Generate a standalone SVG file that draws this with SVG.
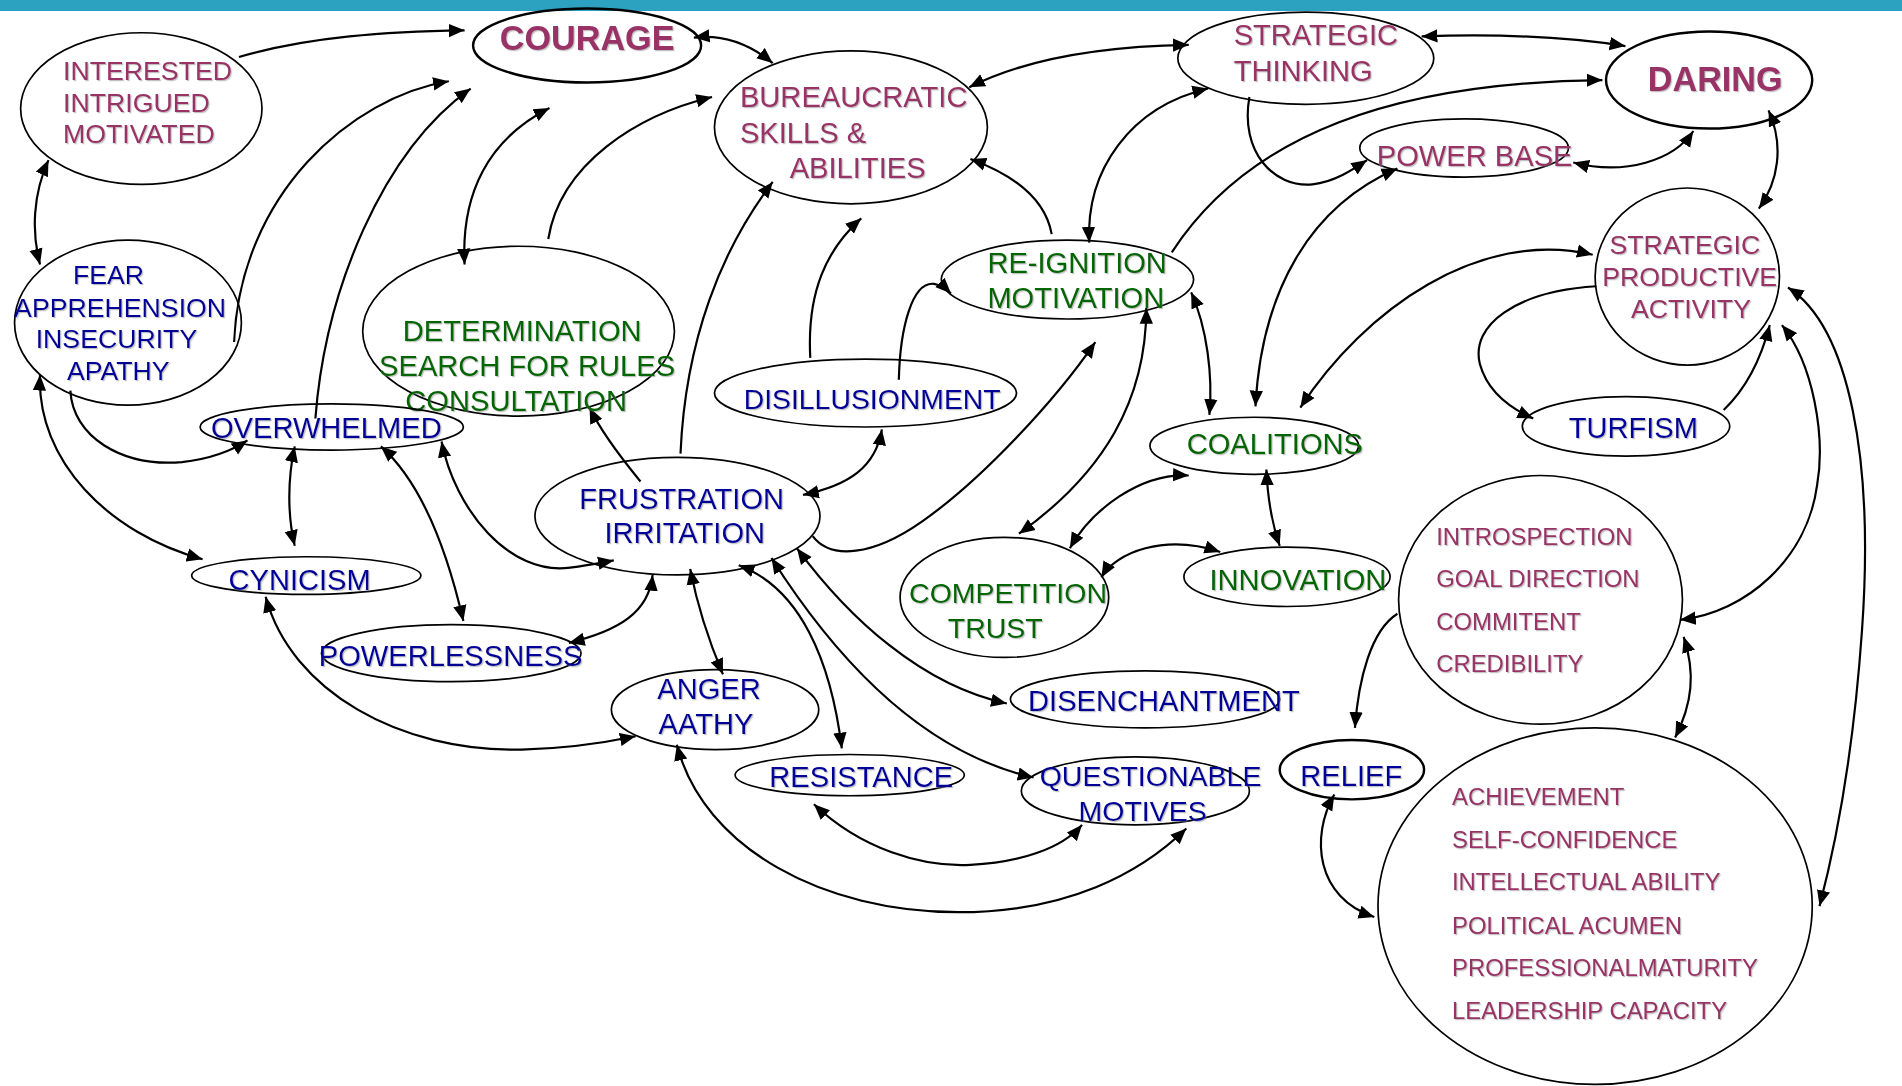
<svg xmlns="http://www.w3.org/2000/svg" width="1902" height="1086" viewBox="0 0 1902 1086">
<style>
.n{fill:none;stroke:#000;stroke-width:1.4}
.nb{fill:none;stroke:#000;stroke-width:2}
.t{font-family:"Liberation Sans",Arial,sans-serif;font-size:24px;filter:url(#sh)}
.p{fill:#993366}.b{fill:#000099}.g{fill:#006600}
.s22{font-size:22px}.s20{font-size:19.7px}.bold{font-weight:bold;font-size:28.2px}
.m{text-anchor:middle}
.c path{fill:none;stroke:#000;stroke-width:1.8}
.e{marker-end:url(#ah)}
.d{marker-start:url(#ah);marker-end:url(#ah)}
</style>
<defs>
<marker id="ah" markerUnits="userSpaceOnUse" markerWidth="14" markerHeight="12" refX="13" refY="5.5" orient="auto-start-reverse" viewBox="0 0 14 11">
<path d="M0,0 L13,5.5 L0,11 z" fill="#000"/>
</marker>
<filter id="sh" x="-5%" y="-20%" width="110%" height="140%">
<feDropShadow dx="1" dy="1" stdDeviation="0.5" flood-color="#777" flood-opacity="0.45"/>
</filter>
</defs>
<rect x="0" y="0" width="1902" height="11" fill="#2da2c0"/>
<g transform="scale(1.21301)">
<g id="connectors" class="c">
<path class="e" d="M197,47 C255,30 320,26 383,25"/>
<path class="d" d="M40,132 C27,160 26,192 33,218"/>
<path class="e" d="M193,282 C198,160 290,80 370,67"/>
<path class="e" d="M260,345 C268,240 315,125 388,73"/>
<path class="d" d="M383,218 C380,160 402,115 453,89"/>
<path class="e" d="M452,197 C462,135 525,95 587,80"/>
<path class="d" d="M572,31 C598,28 620,38 637,52"/>
<path class="d" d="M799,72 C850,46 920,38 980,37"/>
<path class="e" d="M867,193 C862,165 838,145 800,131"/>
<path class="e" d="M561,374 C565,280 595,205 637,150"/>
<path class="e" d="M668,295 C665,240 682,205 710,180"/>
<path class="d" d="M898,200 C895,140 932,88 996,73"/>
<path class="d" d="M1172,30 C1230,28 1290,30 1340,38"/>
<path class="e" d="M966,208 C1030,110 1150,68 1321,66"/>
<path class="e" d="M1030,80 C1022,125 1050,155 1082,152 C1100,150 1115,140 1127,132"/>
<path class="d" d="M1297,134 C1340,145 1380,132 1396,108"/>
<path class="d" d="M1458,91 C1471,120 1466,150 1450,172"/>
<path class="d" d="M1035,335 C1040,240 1080,170 1152,139"/>
<path class="d" d="M1072,336 C1125,255 1220,188 1313,210"/>
<path class="e" d="M1316,236 C1250,240 1212,268 1220,300 C1226,322 1244,336 1264,345"/>
<path class="e" d="M1421,338 C1440,320 1452,295 1459,268"/>
<path class="d" d="M982,241 C995,270 1000,310 997,342"/>
<path class="d" d="M945,254 C945,330 910,390 840,440"/>
<path class="e" d="M670,442 C685,462 720,458 760,430 C810,395 870,330 903,282"/>
<path class="d" d="M882,452 C900,420 940,390 980,392"/>
<path class="d" d="M908,476 C920,455 960,440 1006,455"/>
<path class="d" d="M1044,387 C1045,410 1048,430 1055,450"/>
<path class="d" d="M662,408 C700,400 722,385 727,354"/>
<path class="e" d="M528,397 C510,375 495,355 486,336"/>
<path class="d" d="M364,364 C375,420 420,475 470,468 C485,466 495,464 506,462"/>
<path class="e" d="M58,322 C60,360 100,385 150,381 C175,378 192,371 204,363"/>
<path class="d" d="M33,309 C30,380 90,440 167,461"/>
<path class="d" d="M243,368 C237,395 237,425 243,450"/>
<path class="d" d="M314,368 C350,400 370,460 382,512"/>
<path class="d" d="M469,530 C510,520 535,505 538,474"/>
<path class="d" d="M219,492 C240,570 330,620 430,618 C470,617 500,612 524,607"/>
<path class="d" d="M569,469 C575,500 585,530 596,556"/>
<path class="d" d="M609,466 C660,485 685,545 694,617"/>
<path class="d" d="M636,460 C690,545 760,620 852,641"/>
<path class="d" d="M657,452 C700,510 760,565 830,580"/>
<path class="d" d="M558,614 C580,700 680,752 790,752 C880,752 940,720 978,683"/>
<path class="d" d="M671,663 C710,700 760,715 800,713 C840,711 875,700 892,680"/>
<path class="e" d="M1152,506 C1130,520 1120,560 1117,600"/>
<path class="d" d="M1100,655 C1080,690 1085,740 1133,756"/>
<path class="d" d="M1388,525 C1398,555 1395,580 1381,608"/>
<path class="d" d="M1469,268 C1495,300 1505,360 1498,400 C1490,460 1440,505 1385,511"/>
<path class="d" d="M1474,237 C1525,270 1545,380 1535,520 C1528,620 1515,690 1500,747"/>
<path class="e" d="M741,313 C742,270 752,232 770,234 C776,235 780,238 784,242"/>
</g>
<g id="n-interested"><ellipse class="n" cx="116.5" cy="89.5" rx="99.5" ry="62.5"/>
<text class="t p s22" x="52" y="66">INTERESTED</text><text class="t p s22" x="52" y="92">INTRIGUED</text><text class="t p s22" x="52" y="118">MOTIVATED</text></g>
<g id="n-courage"><ellipse class="nb" cx="484" cy="37.5" rx="94" ry="30.5"/>
<text class="t p bold m" x="484" y="41">COURAGE</text></g>
<g id="n-bureaucratic"><ellipse class="n" cx="701.5" cy="105" rx="112.5" ry="63"/>
<text class="t p" x="610" y="88">BUREAUCRATIC</text><text class="t p" x="610" y="118">SKILLS &amp;</text><text class="t p" x="651" y="147">ABILITIES</text></g>
<g id="n-strategic-thinking"><ellipse class="n" cx="1076.5" cy="48" rx="105.5" ry="38"/>
<text class="t p" x="1017" y="37">STRATEGIC</text><text class="t p" x="1017" y="67">THINKING</text></g>
<g id="n-daring"><ellipse class="nb" cx="1409" cy="66" rx="85" ry="40"/>
<text class="t p bold m" x="1414" y="75">DARING</text></g>
<g id="n-power-base"><ellipse class="n" cx="1207" cy="122" rx="86" ry="24"/>
<text class="t p" x="1135" y="137">POWER BASE</text></g>
<g id="n-fear"><ellipse class="n" cx="105.5" cy="266" rx="93.5" ry="68"/>
<text class="t b s22 m" x="89.5" y="234">FEAR</text><text class="t b s22 m" x="99" y="261">APPREHENSION</text><text class="t b s22 m" x="96" y="287">INSECURITY</text><text class="t b s22 m" x="97.5" y="313">APATHY</text></g>
<g id="n-determination"><ellipse class="n" cx="427.5" cy="273" rx="128.5" ry="70"/>
<text class="t g m" x="430.5" y="281">DETERMINATION</text><text class="t g m" x="434.5" y="310">SEARCH FOR RULES</text><text class="t g m" x="425.5" y="339">CONSULTATION</text></g>
<g id="n-overwhelmed"><ellipse class="n" cx="273.5" cy="352" rx="108.5" ry="19"/>
<text class="t b m" x="269" y="361">OVERWHELMED</text></g>
<g id="n-disillusionment"><ellipse class="n" cx="713.5" cy="324" rx="124.5" ry="28"/>
<text class="t b m" x="719" y="337" style="font-size:23.4px">DISILLUSIONMENT</text></g>
<g id="n-reignition"><ellipse class="n" cx="880" cy="230.5" rx="104" ry="32.5"/>
<text class="t g" x="814" y="225">RE-IGNITION</text><text class="t g" x="814" y="254">MOTIVATION</text></g>
<g id="n-coalitions"><ellipse class="n" cx="1034" cy="367.5" rx="86" ry="23.5"/>
<text class="t g m" x="1051" y="374">COALITIONS</text></g>
<g id="n-frustration"><ellipse class="n" cx="558.5" cy="425.5" rx="117.5" ry="48.5"/>
<text class="t b m" x="562" y="420">FRUSTRATION</text><text class="t b m" x="564.5" y="448">IRRITATION</text></g>
<g id="n-cynicism"><ellipse class="n" cx="252.5" cy="474.5" rx="94.5" ry="15.5"/>
<text class="t b m" x="247" y="486">CYNICISM</text></g>
<g id="n-powerlessness"><ellipse class="n" cx="372" cy="538.5" rx="107" ry="23.5"/>
<text class="t b m" x="371.5" y="549">POWERLESSNESS</text></g>
<g id="n-anger"><ellipse class="n" cx="589.5" cy="585" rx="85.5" ry="33"/>
<text class="t b m" x="584.5" y="576">ANGER</text><text class="t b m" x="582" y="605">AATHY</text></g>
<g id="n-competition"><ellipse class="n" cx="828" cy="492.5" rx="86" ry="49.5"/>
<text class="t g m" x="831" y="497" style="font-size:23.5px">COMPETITION</text><text class="t g m" x="820.5" y="526" style="font-size:23.5px">TRUST</text></g>
<g id="n-innovation"><ellipse class="n" cx="1061" cy="475.5" rx="85" ry="24.5"/>
<text class="t g m" x="1070" y="486">INNOVATION</text></g>
<g id="n-disenchantment"><ellipse class="n" cx="944" cy="576.5" rx="111" ry="23.5"/>
<text class="t b m" x="959.5" y="586">DISENCHANTMENT</text></g>
<g id="n-resistance"><ellipse class="n" cx="700.5" cy="639" rx="94.5" ry="17"/>
<text class="t b m" x="710" y="649">RESISTANCE</text></g>
<g id="n-questionable"><ellipse class="n" cx="936" cy="652" rx="94" ry="28"/>
<text class="t b m" x="948.5" y="648" style="font-size:23.5px">QUESTIONABLE</text><text class="t b m" x="942" y="677" style="font-size:23.5px">MOTIVES</text></g>
<g id="n-relief"><ellipse class="nb" cx="1114.5" cy="634.5" rx="59.5" ry="24.5"/>
<text class="t b m" x="1114" y="648">RELIEF</text></g>
<g id="n-turfism"><ellipse class="n" cx="1340.5" cy="351.5" rx="85.5" ry="24.5"/>
<text class="t b m" x="1346.5" y="361">TURFISM</text></g>
<g id="n-strategic-productive"><ellipse class="n" cx="1391" cy="228" rx="76" ry="73"/>
<text class="t p s22 m" x="1389" y="209">STRATEGIC</text><text class="t p s22 m" x="1393" y="236">PRODUCTIVE</text><text class="t p s22 m" x="1394" y="262">ACTIVITY</text></g>
<g id="n-introspection"><ellipse class="n" cx="1270" cy="494.5" rx="117" ry="102.5"/>
<text class="t p s20" x="1184" y="449">INTROSPECTION</text><text class="t p s20" x="1184" y="484">GOAL DIRECTION</text><text class="t p s20" x="1184" y="519">COMMITENT</text><text class="t p s20" x="1184" y="554">CREDIBILITY</text></g>
<g id="n-achievement"><ellipse class="n" cx="1315" cy="747" rx="179" ry="147"/>
<text class="t p s20" x="1197" y="664">ACHIEVEMENT</text><text class="t p s20" x="1197" y="699">SELF-CONFIDENCE</text><text class="t p s20" x="1197" y="734">INTELLECTUAL ABILITY</text><text class="t p s20" x="1197" y="770">POLITICAL ACUMEN</text><text class="t p s20" x="1197" y="805">PROFESSIONALMATURITY</text><text class="t p s20" x="1197" y="840">LEADERSHIP CAPACITY</text></g>
</g>
</svg>
